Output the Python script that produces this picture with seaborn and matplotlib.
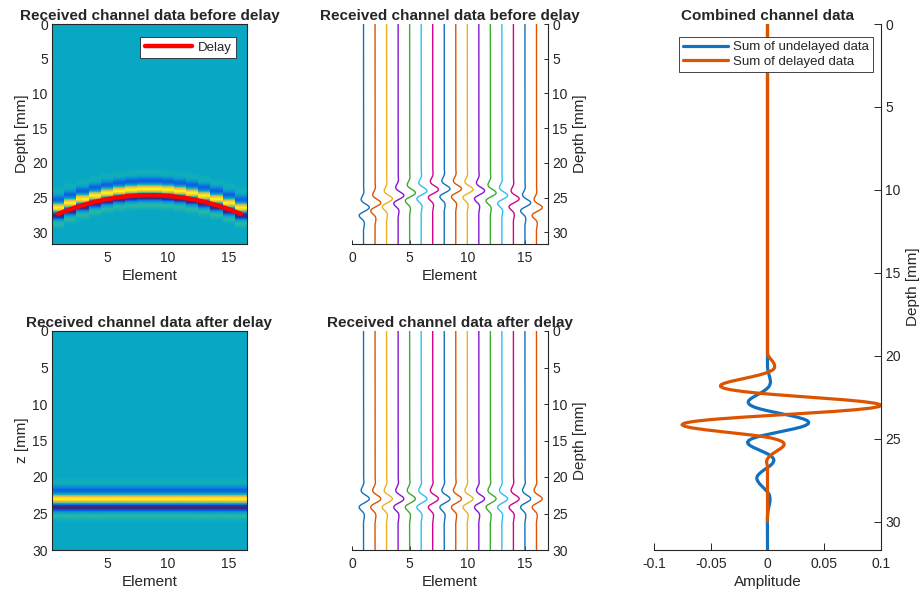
import numpy as np
import pandas as pd
import matplotlib
matplotlib.use("Agg")
import matplotlib.pyplot as plt
import seaborn as sns
from matplotlib.colors import LinearSegmentedColormap

# ---- values ----
elements = list(range(1, 17))
# receive delay curve (red line), depth in mm per element
delay_mm = [27.35, 26.68, 26.10, 25.62, 25.24, 24.95, 24.76, 24.66,
            24.66, 24.76, 24.95, 25.24, 25.62, 26.10, 26.68, 27.35]
echo_above_delay_mm = 0.95      # echo peak sits this far above the delay line
aligned_depth_mm = 22.95        # echo peak depth after delaying
element_amplitude = 0.00625     # peak amplitude of one channel
color_limits = (-0.0040, 0.0063)

# echo waveform, sampled every 0.1 mm starting 3 mm before its peak
pulse_start_mm = -3.0
pulse_step_mm = 0.1
pulse_shape = [
    0.005, 0.012, 0.022, 0.035, 0.045, 0.055, 0.060, 0.062, 0.058, 0.045,
    0.017, -0.020, -0.069, -0.127, -0.192, -0.258, -0.320, -0.370, -0.400, -0.403,
    -0.374, -0.310, -0.210, -0.077, 0.091, 0.284, 0.480, 0.660, 0.812, 0.918,
    0.969, 0.958, 0.882, 0.749, 0.567, 0.350, 0.117, -0.114, -0.325, -0.501,
    -0.631, -0.709, -0.733, -0.706, -0.638, -0.537, -0.416, -0.287, -0.162, -0.050,
    0.033, 0.086, 0.122, 0.140, 0.143, 0.135, 0.119, 0.098, 0.076, 0.053,
    0.034, 0.017, 0.005, -0.004, -0.008, -0.007, -0.003, 0.000,
]
depth_step_mm = 0.05
depth_before_max = 31.7
depth_after_max = 30.0

depth_ticks = [0, 5, 10, 15, 20, 25, 30]
element_ticks = [5, 10, 15]
trace_xticks = [0, 5, 10, 15]
amp_ticks = [-0.1, -0.05, 0, 0.05, 0.1]
amp_ticklabels = ['-0.1', '-0.05', '0', '0.05', '0.1']

gem_colors = ['#1171BE', '#DD5400', '#EDB120', '#8516D1',
              '#3BAA32', '#2FBEEF', '#D1048B']
undelayed_color = '#1171BE'
delayed_color = '#DD5400'
axis_color = '#262626'

parula_anchor = [
    (0.2081, 0.1663, 0.5292), (0.1959, 0.2645, 0.7279), (0.0117, 0.3875, 0.8820),
    (0.0498, 0.4586, 0.8641), (0.0793, 0.5200, 0.8312), (0.0343, 0.5966, 0.8199),
    (0.0228, 0.6535, 0.7768), (0.0843, 0.6928, 0.7062), (0.2178, 0.7250, 0.6193),
    (0.3953, 0.7459, 0.5244), (0.5709, 0.7485, 0.4494), (0.7184, 0.7411, 0.3905),
    (0.8507, 0.7299, 0.3360), (0.9739, 0.7314, 0.2666), (0.9955, 0.7861, 0.1967),
    (0.9626, 0.8705, 0.1309), (0.9763, 0.9831, 0.0538),
]
parula_pos = [i * 4 / 63 for i in range(16)] + [1.0]
parula = LinearSegmentedColormap.from_list(
    'parula', list(zip(parula_pos, parula_anchor)))

# ---- channel data built from the echo waveform and delays ----
pulse = np.array(pulse_shape) / max(pulse_shape)
pulse_t = pulse_start_mm + pulse_step_mm * np.arange(len(pulse))

depth_before = np.arange(int(round(depth_before_max / depth_step_mm))) * depth_step_mm
depth_after = np.arange(int(round(depth_after_max / depth_step_mm))) * depth_step_mm

before = {}
after = {}
for e, d in zip(elements, delay_mm):
    arrival = d - echo_above_delay_mm
    before[e] = element_amplitude * np.interp(depth_before - arrival, pulse_t, pulse,
                                              left=0, right=0)
    shift = arrival - aligned_depth_mm
    after[e] = np.interp(depth_after + shift, depth_before, before[e], left=0, right=0)

before_df = pd.DataFrame(before, index=depth_before)
after_df = pd.DataFrame(after, index=depth_after)
undelayed_sum = before_df.sum(axis=1).values
delayed_sum = after_df.sum(axis=1).values

# ---- style ----
sns.set_style('white')
plt.rcParams['font.family'] = ['Liberation Sans', 'DejaVu Sans']
plt.rcParams['axes.unicode_minus'] = False
plt.rcParams['text.color'] = axis_color
plt.rcParams['axes.labelcolor'] = axis_color
plt.rcParams['xtick.color'] = axis_color
plt.rcParams['ytick.color'] = axis_color
plt.rcParams['axes.edgecolor'] = axis_color
plt.rcParams['axes.linewidth'] = 0.8

TICK_FS = 10
LABEL_FS = 11
TITLE_FS = 11
LEGEND_FS = 9.5


def draw_heatmap(ax, df, ymax, ylabel, title, delay_line=False):
    sns.heatmap(df, ax=ax, cmap=parula, cbar=False,
                vmin=color_limits[0], vmax=color_limits[1],
                xticklabels=False, yticklabels=False, rasterized=True)
    if delay_line:
        sns.lineplot(x=np.array(elements) - 0.5,
                     y=np.array(delay_mm) / depth_step_mm,
                     color='red', lw=3.2, sort=False, estimator=None,
                     label='Delay', ax=ax)
        leg = ax.legend(loc='upper right', bbox_to_anchor=(0.944, 0.941),
                        borderaxespad=0, fontsize=LEGEND_FS, frameon=True,
                        fancybox=False, edgecolor=axis_color, framealpha=1,
                        handlelength=3.6, handletextpad=0.4, borderpad=0.35)
        leg.get_frame().set_linewidth(0.6)
    for sp in ax.spines.values():
        sp.set_visible(True)
        sp.set_color(axis_color)
        sp.set_linewidth(0.8)
    ax.set_xlim(0, len(elements))
    ax.set_ylim(ymax / depth_step_mm, 0)
    ax.set_xticks([e - 0.5 for e in element_ticks])
    ax.set_xticklabels(element_ticks)
    ax.set_yticks([t / depth_step_mm for t in depth_ticks])
    ax.set_yticklabels(depth_ticks)
    ax.tick_params(direction='in', length=2.5, width=0.7, labelsize=TICK_FS,
                   top=True, right=True, bottom=True, left=True, pad=3)
    ax.tick_params(axis='x', pad=5)
    ax.set_xlabel('Element', fontsize=LABEL_FS, labelpad=3, visible=True)
    ax.set_ylabel(ylabel, fontsize=LABEL_FS, labelpad=2, visible=True)
    ax.set_title(title, fontsize=TITLE_FS, fontweight='bold', pad=3)


def draw_traces(ax, df, depth, ymax, title):
    scale = 0.5 / np.abs(before_df.values).max()
    for i, e in enumerate(elements):
        sns.lineplot(x=e + scale * df[e].values, y=depth,
                     color=gem_colors[i % len(gem_colors)], lw=1.0,
                     sort=False, estimator=None, ax=ax)
    ax.set_xlim(0, 17)
    ax.set_ylim(ymax, 0)
    ax.set_xticks(trace_xticks)
    ax.set_yticks(depth_ticks)
    ax.yaxis.tick_right()
    ax.yaxis.set_label_position('right')
    for side in ['top', 'left']:
        ax.spines[side].set_visible(False)
    ax.tick_params(direction='in', length=3, width=0.7, labelsize=TICK_FS,
                   bottom=True, right=True, left=False, top=False, pad=3)
    ax.tick_params(axis='x', pad=5)
    ax.set_xlabel('Element', fontsize=LABEL_FS, labelpad=3, visible=True)
    ax.set_ylabel('Depth [mm]', fontsize=LABEL_FS, labelpad=4, visible=True)
    ax.set_title(title, fontsize=TITLE_FS, fontweight='bold', pad=3)


fig = plt.figure(figsize=(9.24, 5.92), dpi=100)
fig.patch.set_facecolor('white')

ax_img_before = fig.add_axes([52 / 924, 1 - 244 / 592, 195 / 924, 220 / 592])
ax_img_after = fig.add_axes([52 / 924, 1 - 550 / 592, 195 / 924, 219 / 592])
ax_tr_before = fig.add_axes([352 / 924, 1 - 244 / 592, 196 / 924, 220 / 592])
ax_tr_after = fig.add_axes([352 / 924, 1 - 550 / 592, 196 / 924, 219 / 592])
ax_sum = fig.add_axes([654 / 924, 1 - 550 / 592, 227 / 924, 526 / 592])

draw_heatmap(ax_img_before, before_df, depth_before_max, 'Depth [mm]',
             'Received channel data before delay', delay_line=True)
draw_heatmap(ax_img_after, after_df, depth_after_max, 'z [mm]',
             'Received channel data after delay')
draw_traces(ax_tr_before, before_df, depth_before, depth_before_max,
            'Received channel data before delay')
draw_traces(ax_tr_after, after_df, depth_after, depth_after_max,
            'Received channel data after delay')

# combined channel data
sns.lineplot(x=undelayed_sum, y=depth_before, color=undelayed_color, lw=2.3,
             sort=False, estimator=None, label='Sum of undelayed data', ax=ax_sum)
sns.lineplot(x=delayed_sum, y=depth_after, color=delayed_color, lw=2.3,
             sort=False, estimator=None, label='Sum of delayed data', ax=ax_sum)
ax_sum.set_xlim(-0.1, 0.1)
ax_sum.set_ylim(depth_before_max, 0)
ax_sum.set_xticks(amp_ticks)
ax_sum.set_xticklabels(amp_ticklabels)
ax_sum.set_yticks(depth_ticks)
ax_sum.yaxis.tick_right()
ax_sum.yaxis.set_label_position('right')
for side in ['top', 'left']:
    ax_sum.spines[side].set_visible(False)
ax_sum.tick_params(direction='in', length=5, width=0.7, labelsize=TICK_FS,
                   bottom=True, right=True, left=False, top=False, pad=3)
ax_sum.tick_params(axis='x', pad=5)
ax_sum.set_xlabel('Amplitude', fontsize=LABEL_FS, labelpad=3, visible=True)
ax_sum.set_ylabel('Depth [mm]', fontsize=LABEL_FS, labelpad=4, visible=True)
ax_sum.set_title('Combined channel data', fontsize=TITLE_FS, fontweight='bold', pad=3)
leg = ax_sum.legend(loc='upper left', bbox_to_anchor=(0.11, 0.975), borderaxespad=0,
                    fontsize=LEGEND_FS, frameon=True, fancybox=False,
                    edgecolor=axis_color, framealpha=1, handlelength=3.4,
                    handletextpad=0.4, borderpad=0.3, labelspacing=0.15)
leg.get_frame().set_linewidth(0.6)

fig.savefig('out.png', dpi=100)
